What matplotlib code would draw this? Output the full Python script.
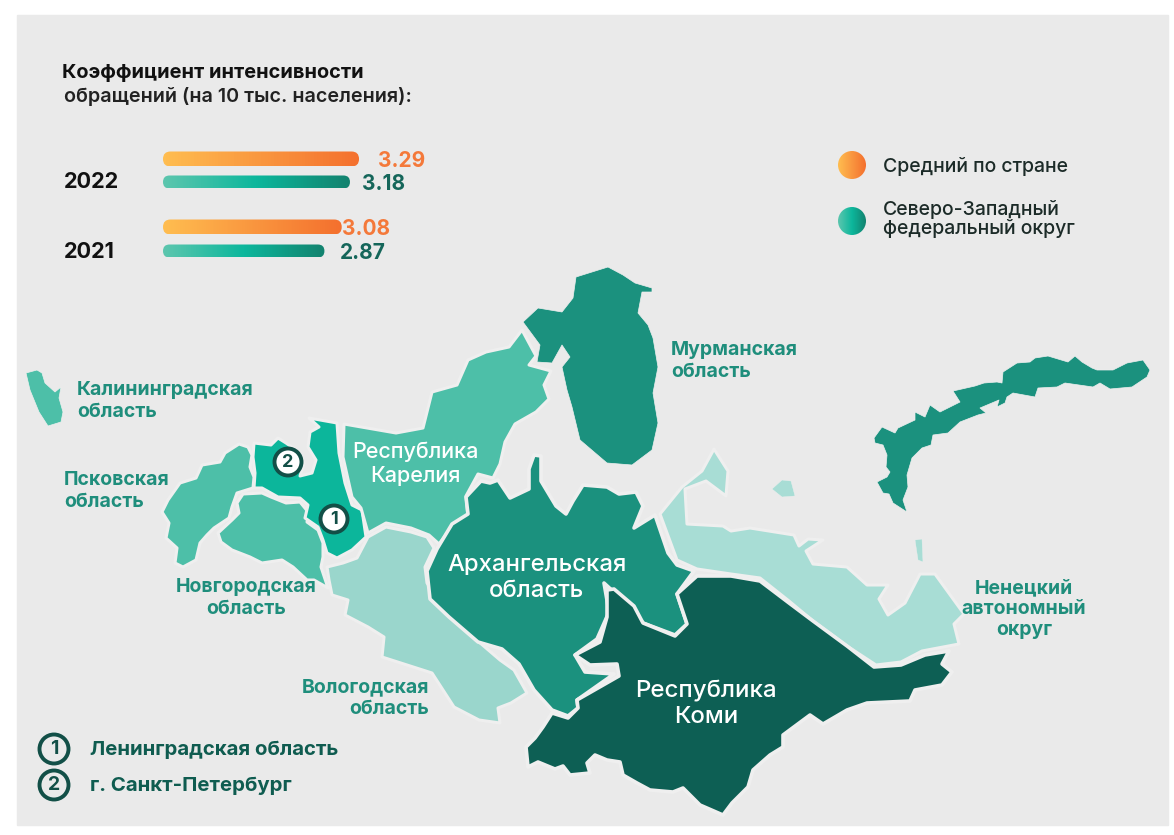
import numpy as np
import matplotlib
matplotlib.use("Agg")
import matplotlib.pyplot as plt
from matplotlib.colors import LinearSegmentedColormap
from matplotlib.patches import Polygon, Circle, FancyBboxPatch, Rectangle

plt.rcParams['font.family'] = ['Inter', 'DejaVu Sans']

# bar chart values
years = ['2022', '2021']
country_values = [3.29, 3.08]
district_values = [3.18, 2.87]

# region outlines
kaliningrad = [(26,373),(37,370),(42,373),(45,383),(55,392),(61,387),(59,398),(63,412),(61,422),(48,426),(39,412),(30,390)]
pskov = [(239,444),(248,447),(252,455),(250,467),(254,477),(253,488),(237,493),(232,507),(229,518),(214,528),(207,535),(200,543),
         (196,560),(183,567),(175,563),(177,548),(166,538),(169,523),(162,512),(168,500),(180,483),(196,478),(202,465),(220,462),(225,453)]
leningrad = [(309,418),(337,423),(339,453),(345,483),(352,505),(362,510),(366,537),(352,550),(337,558),(327,553),(323,540),(318,527),
             (305,518),(308,505),(300,498),(278,497),(262,488),(254,488),(255,473),(253,457),(254,443),(271,445),(278,438),(286,443),
             (296,450),(304,463),(300,476),(312,473),(316,460),(308,447),(310,432),(319,427)]
novgorod = [(243,494),(262,493),(271,497),(286,503),(300,502),(309,513),(307,522),(318,530),(323,543),(323,557),(321,567),(323,573),
            (328,588),(314,580),(307,580),(293,567),(282,560),(262,563),(250,557),(232,550),(221,542),(218,533),(232,520),(239,513),(237,503)]
vologda = [(327,567),(343,563),(357,558),(368,537),(386,527),(411,532),(427,537),(434,548),(425,567),(427,583),(443,607),(461,623),
           (479,642),(500,660),(514,670),(527,693),(511,703),(498,708),(500,723),(479,720),(454,707),(432,673),(407,665),(382,657),
           (384,637),(368,627),(345,615),(348,600),(332,595),(329,580)]
karelia = [(344,424),(396,433),(423,428),(432,392),(457,385),(468,360),(486,352),(509,347),(522,330),(536,356),(529,365),(551,371),
           (544,385),(549,399),(536,412),(515,424),(505,442),(500,464),(493,478),(478,474),(466,496),(468,517),(454,524),(439,544),
           (429,535),(411,528),(386,523),(368,533),(361,508),(352,497),(343,457)]
murmansk = [(576,277),(608,267),(623,275),(635,283),(652,288),(652,292),(642,292),(638,313),(648,325),(653,338),(658,367),(653,393),
            (658,423),(652,450),(632,465),(607,463),(580,440),(572,407),(567,390),(562,367),(570,357),(562,345),(552,363),(537,362),
            (540,345),(523,322),(538,308),(562,312),(573,298)]
arkhangelsk = [(481,481),(490,483),(498,480),(510,498),(529,489),(529,469),(534,455),(541,456),(541,481),(556,506),(566,514),(573,501),
               (583,485),(607,487),(619,494),(636,492),(643,506),(634,528),(655,515),(668,553),(677,565),(694,571),(677,594),(687,624),
               (675,635),(643,623),(629,606),(604,583),(609,612),(597,639),(575,655),(585,672),(614,674),(577,700),(578,708),(568,716),
               (552,710),(534,690),(519,664),(502,649),(478,642),(449,617),(430,599),(427,571),(437,549),(452,524),(468,514),(466,497)]
komi = [(697,576),(731,576),(760,581),(789,603),(813,621),(847,646),(874,667),(901,665),(925,655),(949,651),(942,664),(952,672),
        (942,685),(915,690),(910,701),(867,703),(847,710),(823,724),(810,715),(783,735),(783,747),(770,755),(753,770),(748,787),
        (732,803),(723,815),(700,805),(683,788),(673,792),(650,790),(637,783),(623,775),(620,762),(607,760),(595,755),(587,763),
        (590,773),(570,775),(563,766),(555,769),(538,762),(528,767),(526,747),(535,738),(543,727),(552,713),(568,718),(578,708),
        (577,700),(619,676),(617,664),(590,665),(575,655),(600,642),(607,617),(607,590),(614,589),(634,606),(643,623),
        (675,636),(687,624),(677,594)]
nenets = [(714,449),(728,471),(726,496),(706,481),(685,489),(687,524),(723,526),(731,531),(750,528),(794,535),(799,546),(808,539),
          (823,540),(806,551),(813,564),(847,567),(867,585),(888,585),(879,599),(888,615),(905,603),(920,574),(935,574),(964,614),
          (954,624),(959,644),(922,651),(901,662),(876,665),(847,646),(813,621),(789,601),(760,578),(731,574),(697,569),(677,560),
          (660,514),(682,487),(702,471)]
kolguev = [(772,489),(782,480),(791,481),(795,496),(782,497)]
vaygach = [(915,540),(922,539),(923,562),(918,560)]
novaya_zemlya = [(874,438),(882,427),(895,433),(898,428),(915,420),(915,412),(925,417),(930,405),(940,412),(960,402),(953,391),(975,386),
                 (984,383),(997,382),(1002,383),(1003,372),(1017,363),(1030,362),(1035,358),(1048,356),(1068,362),(1075,356),(1082,362),
                 (1092,368),(1097,370),(1113,370),(1127,363),(1143,360),(1150,370),(1147,377),(1132,387),(1110,389),(1100,383),(1093,387),
                 (1065,383),(1057,387),(1038,388),(1035,397),(1013,393),(1007,397),(1005,403),(997,407),(999,400),(980,408),(986,413),
                 (978,415),(960,422),(948,433),(933,435),(931,445),(922,448),(912,458),(907,475),(908,487),(903,500),(907,512),(893,503),
                 (889,494),(883,493),(877,482),(887,477),(890,472),(886,467),(887,455),(883,445),(875,443)]

# colours
BG = '#EAEAEA'
EDGE = '#EFEFEF'
TEAL_TEXT = '#1F8E7C'
DARK = '#0F5C50'
C_MID = '#4DBFA8'
C_LEN = '#0CB69B'
C_VOL = '#9AD6CC'
C_NEN = '#A8DDD5'
C_ARK = '#1B917E'
C_KOMI = '#0D5F54'

orange_cmap = LinearSegmentedColormap.from_list('orange', ['#FFBD50', '#F4702E'])
green_cmap = LinearSegmentedColormap.from_list('green', ['#5CC6AE', '#0CB79C', '#13836F'])

fig = plt.figure(figsize=(11.74, 8.35), dpi=100)
ax = fig.add_axes([0, 0, 1, 1])
ax.set_xlim(0, 1174)
ax.set_ylim(835, 0)
ax.axis('off')
ax.add_patch(Rectangle((17, 15), 1151, 810, color=BG, zorder=0))

# Map
regions = [
    (kaliningrad, C_MID, 0.5), (pskov, C_MID, 2.2), (novgorod, C_MID, 2.2), (leningrad, C_LEN, 2.2),
    (karelia, C_MID, 2.2), (vologda, C_VOL, 2.2), (murmansk, C_ARK, 0.5), (novaya_zemlya, C_ARK, 0.5),
    (kolguev, C_NEN, 0.3), (vaygach, C_NEN, 0.3), (nenets, C_NEN, 2.2), (arkhangelsk, C_ARK, 2.6), (komi, C_KOMI, 2.6),
]
for i, (pts, col, lw) in enumerate(regions):
    ax.add_patch(Polygon(pts, closed=True, facecolor=col, edgecolor=EDGE, linewidth=lw, joinstyle='round', zorder=2 + i * 0.01))

# Region names
for txt, x, y, ha in [
    ('Мурманская\nобласть', 671, 361, 'left'),
    ('Калининградская\nобласть', 77, 401, 'left'),
    ('Псковская\nобласть', 64, 491, 'left'),
    ('Новгородская\nобласть', 246, 598, 'center'),
    ('Вологодская\nобласть', 429, 698, 'right'),
    ('Ненецкий\nавтономный\nокруг', 1024, 609, 'center'),
]:
    ax.text(x, y, txt, ha=ha, va='center', ma=ha, color=TEAL_TEXT, fontsize=14, fontweight='bold', linespacing=1.22, zorder=5)
for txt, x, y, fs in [
    ('Республика\nКарелия', 415, 464, 15.5),
    ('Архангельская\nобласть', 537, 578, 17.2),
    ('Республика\nКоми', 706, 704, 17.3),
]:
    ax.text(x, y, txt, ha='center', va='center', color='white', fontsize=fs, fontweight='medium', linespacing=1.22, zorder=5)

# Numbered markers on the map
for x, y, n in [(334, 519, '1'), (288, 462, '2')]:
    ax.add_patch(Circle((x, y), 13.5, facecolor='white', edgecolor='#124F47', linewidth=2.8, zorder=6))
    ax.text(x, y + 0.5, n, ha='center', va='center', fontsize=13, fontweight='bold', color='#124F47', zorder=7)

# Numbered legend at the bottom
for x, y, n, name in [(54, 749, '1', 'Ленинградская область'), (54, 785, '2', 'г. Санкт-Петербург')]:
    ax.add_patch(Circle((x, y), 14.5, facecolor=BG, edgecolor='#124F47', linewidth=2.8, zorder=6))
    ax.text(x, y + 0.5, n, ha='center', va='center', fontsize=14, fontweight='bold', color='#124F47', zorder=7)
    ax.text(90, y + 1, name, ha='left', va='center', fontsize=14.7, fontweight='bold', color=DARK, zorder=7)

# Title
ax.text(62, 73, 'Коэффициент интенсивности', ha='left', va='center', fontsize=14.4, fontweight='bold', color='#111111')
ax.text(64, 96, 'обращений (на 10 тыс. населения):', ha='left', va='center', fontsize=14.2, fontweight='semibold', color='#222222')

# Colour legend
grad = np.linspace(0, 1, 64).reshape(1, -1)
for y, cmap in [(165, orange_cmap), (221, green_cmap)]:
    im = ax.imshow(grad, extent=[838, 866, y + 14, y - 14], cmap=cmap, aspect='auto', zorder=3)
    clip = Circle((852, y), 14, transform=ax.transData)
    im.set_clip_path(clip)
ax.set_xlim(0, 1174)
ax.set_ylim(835, 0)
ax.text(883, 166, 'Средний по стране', ha='left', va='center', fontsize=14, fontweight='medium', color='#1c2b28')
ax.text(883, 219, 'Северо-Западный\nфедеральный округ', ha='left', va='center', fontsize=14, fontweight='medium',
        color='#1c2b28', linespacing=1.0)

# Bars, on their own value axis (the picture's bars do not start at zero)
PX_PER_UNIT = 82.4
X_BASE = 0.911
bar_left, bar_right = 163, 463
bar_top, bar_bottom = 140, 270
bax = fig.add_axes([bar_left / 1174, 1 - bar_bottom / 835, (bar_right - bar_left) / 1174, (bar_bottom - bar_top) / 835])
bax.set_xlim(X_BASE, X_BASE + (bar_right - bar_left) / PX_PER_UNIT)
bax.set_ylim(bar_bottom, bar_top)
bax.axis('off')
bax.patch.set_alpha(0)


def grad_bar(value, y, h, cmap):
    # rounded bar with a left to right gradient
    r = h / 2
    im = bax.imshow(grad, extent=[X_BASE, value, y + r, y - r], cmap=cmap, aspect='auto', zorder=3)
    rx = r / PX_PER_UNIT
    box = FancyBboxPatch((X_BASE, y - r), value - X_BASE, h, boxstyle=f'round,pad=0,rounding_size={rx}',
                         mutation_aspect=PX_PER_UNIT, transform=bax.transData, facecolor='none', edgecolor='none')
    bax.add_patch(box)
    im.set_clip_path(box)


country_y = [159, 227]
district_y = [182, 251]
country_label_x = [378, 342]
district_label_x = [362, 340]
year_y = [182, 252]
for i, year in enumerate(years):
    grad_bar(country_values[i], country_y[i], 15, orange_cmap)
    grad_bar(district_values[i], district_y[i], 13, green_cmap)
    ax.text(64, year_y[i], year, ha='left', va='center', fontsize=15.6, fontweight='bold', color='#111111')
    ax.text(country_label_x[i], country_y[i] + 2, f'{country_values[i]:.2f}', ha='left', va='center', fontsize=15,
            fontweight='bold', color='#F4793A')
    ax.text(district_label_x[i], district_y[i] + 2, f'{district_values[i]:.2f}', ha='left', va='center', fontsize=15,
            fontweight='bold', color='#15665A')
bax.set_xlim(X_BASE, X_BASE + (bar_right - bar_left) / PX_PER_UNIT)
bax.set_ylim(bar_bottom, bar_top)

fig.savefig('out.png', dpi=100, facecolor='white')
